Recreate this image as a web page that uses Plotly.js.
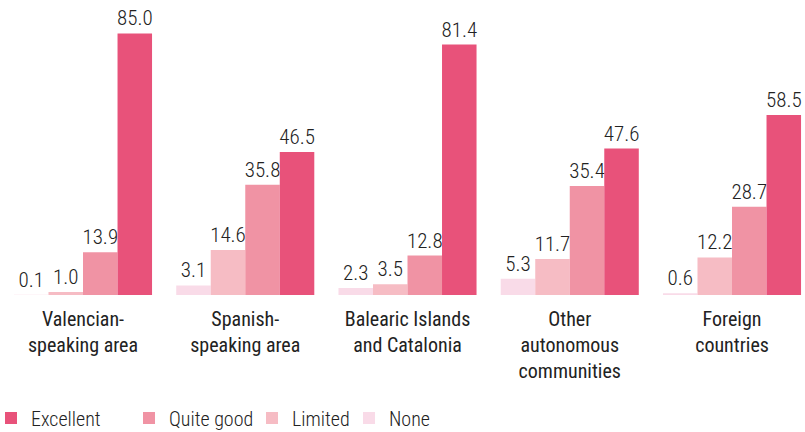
<!DOCTYPE html>
<html>
<head>
<meta charset="utf-8">
<script src="https://cdn.plot.ly/plotly-3.0.1.min.js"></script>
<style>html,body{margin:0;padding:0;background:#fff;}#chart{width:805px;height:432px;}</style>
</head>
<body>
<div id="chart"></div>
<script>
const categories = [
  "Valencian-<br>speaking area",
  "Spanish-<br>speaking area",
  "Balearic Islands<br>and Catalonia",
  "Other<br>autonomous<br>communities",
  "Foreign<br>countries"
];
const seriesNames = ["None", "Limited", "Quite good", "Excellent"];
const noneVals = [0.1, 3.1, 2.3, 5.3, 0.6];
const limitedVals = [1.0, 14.6, 3.5, 11.7, 12.2];
const quiteGoodVals = [13.9, 35.8, 12.8, 35.4, 28.7];
const excellentVals = [85.0, 46.5, 81.4, 47.6, 58.5];

const colors = ["#f9dbe8", "#f6bcc4", "#f093a4", "#e8527a"];
const values = [noneVals, limitedVals, quiteGoodVals, excellentVals];
const legendIds = ["legend4", "legend3", "legend2", "legend"];

const FAM = "'Roboto Condensed', 'Liberation Sans Narrow', 'DejaVu Sans Condensed', Roboto, sans-serif";
const valueFont = {family: FAM, size: 21, color: "#222", weight: 300};
const traces = values.map((v, i) => ({
  type: "bar",
  name: seriesNames[i],
  x: categories,
  y: v,
  marker: {color: colors[i], line: {width: 0}},
  text: v.map(d => d.toFixed(1)),
  textposition: "outside",
  constraintext: "none",
  textfont: valueFont,
  cliponaxis: false,
  hoverinfo: "none",
  legend: legendIds[i]
}));

const legendFont = {family: FAM, size: 20, color: "#222", weight: 300};
function leg(xpx) {
  return {x: xpx / 805, xanchor: "left", y: -0.417, yanchor: "middle",
          orientation: "h", font: legendFont, bgcolor: "rgba(0,0,0,0)",
          borderwidth: 0, itemwidth: 30, tracegroupgap: 0};
}

const layout = {
  width: 805, height: 432,
  margin: {l: 0, r: 0, t: 0, b: 137, autoexpand: false},
  paper_bgcolor: "#fff", plot_bgcolor: "#fff",
  barmode: "group",
  bargap: 0.149, bargroupgap: 0,
  showlegend: true,
  legend: leg(-9),
  legend2: leg(129),
  legend3: leg(252),
  legend4: leg(349),
  xaxis: {
    type: "category",
    range: [-0.5116, 4.4499],
    automargin: false,
    showgrid: false, zeroline: false, showline: false,
    ticks: "", ticklen: 0,
    ticklabelstandoff: 10,
    tickfont: {family: FAM, size: 20, color: "#222"},
    fixedrange: true
  },
  yaxis: {
    range: [0, 95.87],
    visible: false,
    automargin: false,
    showgrid: false, zeroline: false,
    fixedrange: true
  },
  font: {family: FAM}
};

Plotly.newPlot("chart", traces, layout, {displayModeBar: false, staticPlot: true});
</script>
</body>
</html>
